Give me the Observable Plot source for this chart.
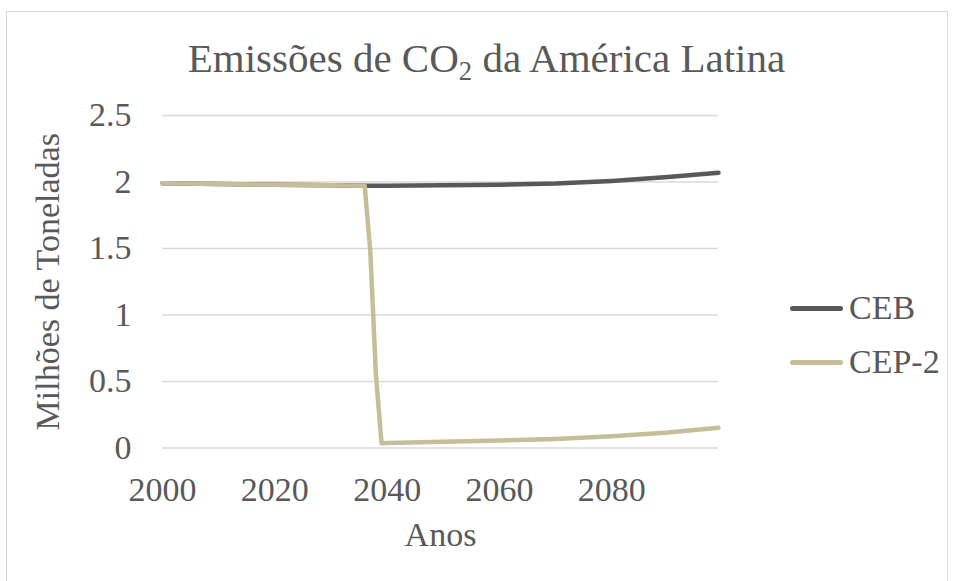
<!DOCTYPE html>
<html>
<head>
<meta charset="utf-8">
<script src="https://cdn.jsdelivr.net/npm/d3@7"></script>
<script src="https://cdn.jsdelivr.net/npm/@observablehq/plot@0.6"></script>
<style>
  html, body { margin: 0; padding: 0; background: #fff; }
  #wrap { position: relative; width: 955px; height: 581px; overflow: hidden; font-family: "Liberation Serif", "Times New Roman", serif; color: #595959; }
  #frame { position: absolute; left: 6px; top: 11px; width: 942px; height: 620px; border: 1.5px solid #d9d9d9; box-sizing: border-box; }
  #title { position: absolute; left: 9px; top: 38px; width: 955px; text-align: center; font-size: 41px; line-height: 41px; white-space: nowrap; }
  #title .sub { font-size: 0.65em; position: relative; top: 0.3em; }
  #plot { position: absolute; left: 0; top: 0; }
  .leg { position: absolute; left: 790px; height: 34px; line-height: 34px; font-size: 34px; display: flex; align-items: center; white-space: nowrap; }
  .leg .sw { display: inline-block; width: 53px; height: 5px; border-radius: 2.5px; margin-right: 6px; }
</style>
</head>
<body>
<div id="wrap">
  <div id="frame"></div>
  <div id="plot"></div>
  <div id="title">Emissões de CO<span class="sub">2</span> da América Latina</div>
  <div id="legend"></div>
</div>
<script>
// Data
const seriesNames = ["CEB", "CEP-2"];
const seriesColors = ["#595959", "#c6be99"];

const cebYears  = [2000, 2010, 2020, 2030, 2036, 2040, 2050, 2060, 2070, 2080, 2090, 2099];
const cebValues = [1.99, 1.985, 1.98, 1.975, 1.972, 1.972, 1.975, 1.98, 1.988, 2.008, 2.037, 2.07];

const cepYears  = [2000, 2010, 2020, 2030, 2036, 2037, 2038, 2039, 2040, 2050, 2060, 2070, 2080, 2090, 2099];
const cepValues = [1.99, 1.985, 1.98, 1.975, 1.972, 1.48, 0.55, 0.035, 0.037, 0.047, 0.057, 0.068, 0.088, 0.117, 0.152];

const xTicks = [2000, 2020, 2040, 2060, 2080];
const yTicks = [0, 0.5, 1, 1.5, 2, 2.5];

const ceb = cebYears.map((y, i) => ({year: y, value: cebValues[i]}));
const cep = cepYears.map((y, i) => ({year: y, value: cepValues[i]}));

const chart = Plot.plot({
  width: 955,
  height: 581,
  marginLeft: 162,
  marginRight: 237,
  marginTop: 115,
  marginBottom: 133.5,
  style: { fontFamily: "Liberation Serif, Times New Roman, serif", fontSize: "34px", color: "#595959", background: "transparent", overflow: "visible" },
  x: { domain: [2000, 2099], ticks: xTicks, tickFormat: d => String(d), tickSize: 0, tickPadding: 29, label: null },
  y: { domain: [0, 2.5], ticks: yTicks, tickFormat: d => String(d), tickSize: 0, tickPadding: 31, label: null },
  marks: [
    Plot.ruleY(yTicks, { stroke: "#d9d9d9", strokeWidth: 1.5 }),
    Plot.line(ceb, { x: "year", y: "value", stroke: seriesColors[0], strokeWidth: 4.5, strokeLinecap: "round", strokeLinejoin: "round" }),
    Plot.line(cep, { x: "year", y: "value", stroke: seriesColors[1], strokeWidth: 4.5, strokeLinecap: "round", strokeLinejoin: "round" }),
    Plot.text(["Milhões de Toneladas"], { frameAnchor: "left", rotate: -90, dx: -114, textAnchor: "middle", lineAnchor: "middle", fill: "#595959", fontSize: 34 }),
    Plot.text(["Anos"], { frameAnchor: "bottom", dy: 87, textAnchor: "middle", lineAnchor: "middle", fill: "#595959", fontSize: 34 })
  ]
});
document.getElementById("plot").appendChild(chart);

const legend = document.getElementById("legend");
const legTops = [291, 345];
seriesNames.forEach((name, i) => {
  const row = document.createElement("div");
  row.className = "leg";
  row.style.top = legTops[i] + "px";
  const sw = document.createElement("span");
  sw.className = "sw";
  sw.style.background = seriesColors[i];
  row.appendChild(sw);
  row.appendChild(document.createTextNode(name));
  legend.appendChild(row);
});
</script>
</body>
</html>
